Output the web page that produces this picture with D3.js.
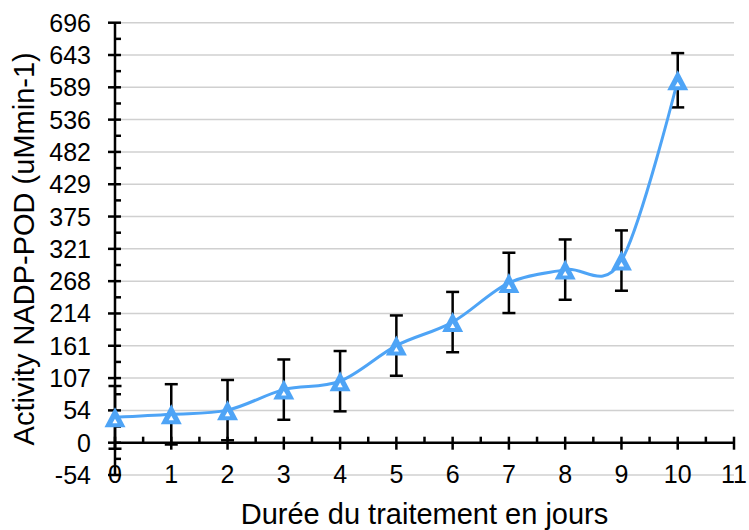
<!DOCTYPE html>
<html>
<head>
<meta charset="utf-8">
<script src="https://cdn.jsdelivr.net/npm/d3@7"></script>
<style>
  html, body { margin: 0; padding: 0; background: #fff; }
  svg { display: block; font-family: "Liberation Sans", Arial, sans-serif; }
</style>
</head>
<body>
<svg id="chart" width="749" height="530"></svg>
<script>
// Days of treatment and measured NADP-POD activity (mean ± error)
const days = [0, 1, 2, 3, 4, 5, 6, 7, 8, 9, 10];
const activity = [42, 47, 54, 88, 102, 161, 200, 265, 287, 302, 601];
const errors = [52, 50, 50, 50, 50, 50, 50, 50, 50, 50, 45];

// Axis ticks
const yTicks = [-53.57, 0, 53.57, 107.14, 160.71, 214.29, 267.86, 321.43, 375, 428.57, 482.14, 535.71, 589.29, 642.86, 696.43];
const yTickLabels = ["-54", "0", "54", "107", "161", "214", "268", "321", "375", "429", "482", "536", "589", "643", "696"];
const xTicks = [0, 1, 2, 3, 4, 5, 6, 7, 8, 9, 10, 11];
const xTickLabels = ["0", "1", "2", "3", "4", "5", "6", "7", "8", "9", "10", "11"];

const xTitle = "Durée du traitement en jours";
const yTitle = "Activity NADP-POD (uMmin-1)";

const lineColor = "#4ea4f6";
const svg = d3.select("#chart");

const x = d3.scaleLinear().domain([0, 11]).range([115, 734]);
const y = d3.scaleLinear().domain([-53.57, 696.43]).range([475, 22.7]);

// Horizontal gridlines
svg.append("g")
  .selectAll("line")
  .data(yTicks)
  .join("line")
  .attr("x1", x(0)).attr("x2", x(11))
  .attr("y1", d => y(d)).attr("y2", d => y(d))
  .attr("stroke", "#d0d0d0")
  .attr("stroke-width", 1.5);

// Y axis: line, crossing major ticks, inner minor ticks
const yAxis = svg.append("g").attr("transform", `translate(${x(0)},0)`);
yAxis.append("line")
  .attr("x1", 0).attr("x2", 0)
  .attr("y1", y(yTicks[0])).attr("y2", y(yTicks[yTicks.length - 1]))
  .attr("stroke", "#000").attr("stroke-width", 2.5);
yAxis.selectAll(".major")
  .data(yTicks)
  .join("line")
  .attr("class", "major")
  .attr("x1", -7).attr("x2", 6)
  .attr("y1", d => y(d)).attr("y2", d => y(d))
  .attr("stroke", "#000").attr("stroke-width", 2.5);
yAxis.selectAll(".minor")
  .data(d3.pairs(yTicks).map(p => (p[0] + p[1]) / 2))
  .join("line")
  .attr("class", "minor")
  .attr("x1", 0).attr("x2", 6)
  .attr("y1", d => y(d)).attr("y2", d => y(d))
  .attr("stroke", "#000").attr("stroke-width", 2.5);
yAxis.selectAll("text")
  .data(yTicks)
  .join("text")
  .attr("x", -24)
  .attr("y", d => y(d))
  .attr("dy", "0.36em")
  .attr("text-anchor", "end")
  .attr("font-size", 25)
  .attr("fill", "#000")
  .text((d, i) => yTickLabels[i]);

// X axis at y = 0
const xAxis = svg.append("g").attr("transform", `translate(0,${y(0)})`);
xAxis.append("line")
  .attr("x1", x(0)).attr("x2", x(11))
  .attr("y1", 0).attr("y2", 0)
  .attr("stroke", "#000").attr("stroke-width", 2.5);
xAxis.selectAll(".major")
  .data(xTicks)
  .join("line")
  .attr("class", "major")
  .attr("x1", d => x(d)).attr("x2", d => x(d))
  .attr("y1", -6).attr("y2", 7)
  .attr("stroke", "#000").attr("stroke-width", 2.5);
xAxis.selectAll(".minor")
  .data(d3.pairs(xTicks).map(p => (p[0] + p[1]) / 2))
  .join("line")
  .attr("class", "minor")
  .attr("x1", d => x(d)).attr("x2", d => x(d))
  .attr("y1", -6).attr("y2", 0)
  .attr("stroke", "#000").attr("stroke-width", 2.5);

// X tick labels sit below the plot
svg.append("g")
  .selectAll("text")
  .data(xTicks)
  .join("text")
  .attr("x", d => x(d))
  .attr("y", 483)
  .attr("text-anchor", "middle")
  .attr("font-size", 25)
  .attr("fill", "#000")
  .text((d, i) => xTickLabels[i]);

// Axis titles
svg.append("text")
  .attr("x", (x(0) + x(11)) / 2)
  .attr("y", 524)
  .attr("text-anchor", "middle")
  .attr("font-size", 29)
  .attr("fill", "#000")
  .text(xTitle);
svg.append("text")
  .attr("transform", `translate(34,${(y(yTicks[0]) + y(yTicks[yTicks.length - 1])) / 2}) rotate(-90)`)
  .attr("text-anchor", "middle")
  .attr("font-size", 29)
  .attr("fill", "#000")
  .text(yTitle);

const pts = days.map((d, i) => ({ day: d, v: activity[i], e: errors[i] }));

// Error bars
const eb = svg.append("g").attr("stroke", "#000").attr("stroke-width", 2.5);
eb.selectAll(".stem")
  .data(pts)
  .join("line")
  .attr("x1", d => x(d.day)).attr("x2", d => x(d.day))
  .attr("y1", d => y(d.v - d.e)).attr("y2", d => y(d.v + d.e));
eb.selectAll(".capTop")
  .data(pts)
  .join("line")
  .attr("class", "capTop")
  .attr("x1", d => x(d.day) - 6.5).attr("x2", d => x(d.day) + 6.5)
  .attr("y1", d => y(d.v + d.e)).attr("y2", d => y(d.v + d.e));
eb.selectAll(".capBot")
  .data(pts)
  .join("line")
  .attr("class", "capBot")
  .attr("x1", d => x(d.day) - 6.5).attr("x2", d => x(d.day) + 6.5)
  .attr("y1", d => y(d.v - d.e)).attr("y2", d => y(d.v - d.e));

// Smoothed activity line
const line = d3.line()
  .x(d => x(d.day))
  .y(d => y(d.v))
  .curve(d3.curveCardinal.tension(0));
svg.append("path")
  .datum(pts)
  .attr("d", line)
  .attr("fill", "none")
  .attr("stroke", lineColor)
  .attr("stroke-width", 3);

// Triangle markers with a small white centre
const marks = svg.append("g")
  .selectAll("g")
  .data(pts)
  .join("g")
  .attr("transform", d => `translate(${x(d.day)},${y(d.v)})`);
marks.append("path")
  .attr("d", "M0,-10L10.5,10L-10.5,10Z")
  .attr("fill", lineColor);
marks.append("path")
  .attr("d", "M0,1.4L2.6,6L-2.6,6Z")
  .attr("fill", "#fff");
</script>
</body>
</html>
